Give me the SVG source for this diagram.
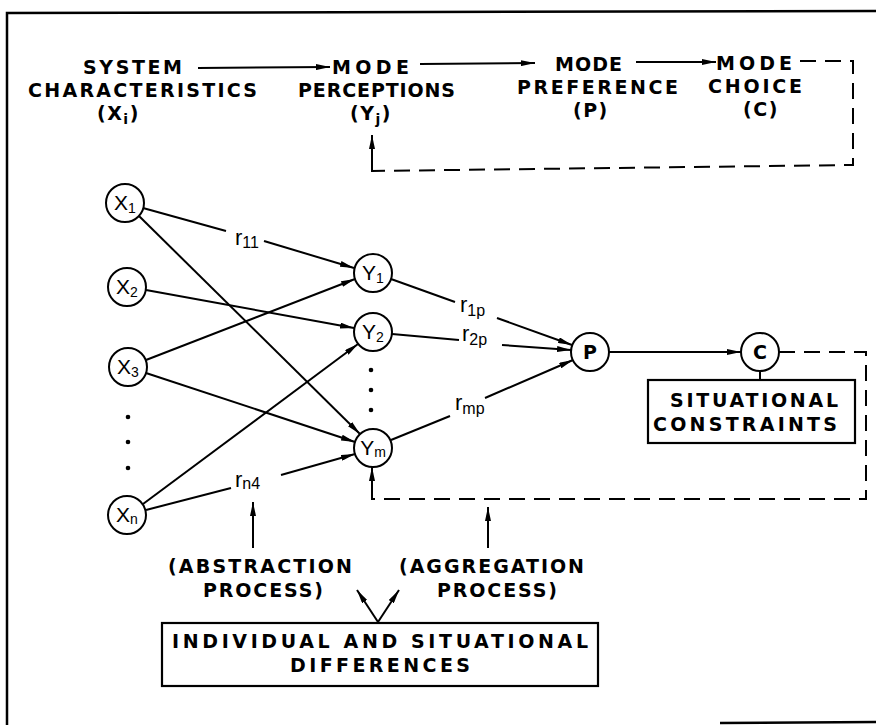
<svg xmlns="http://www.w3.org/2000/svg" width="876" height="725" viewBox="0 0 876 725">
  <defs>
    <marker id="ah" viewBox="0 0 14 6" refX="14" refY="3" markerWidth="14" markerHeight="6" markerUnits="userSpaceOnUse" orient="auto">
      <path d="M0,0 L14,3 L0,6 z" fill="#000"/>
    </marker>
    <style>
      .cap { font-family: "DejaVu Sans", "Liberation Sans", Arial, sans-serif; font-weight: bold; font-size: 19px; fill: #000; }
      .nl { font-family: "Liberation Sans", Arial, sans-serif; font-size: 21px; fill: #000; }
      .sub { font-size: 14px; }
      .rl { font-family: "Liberation Sans", Arial, sans-serif; font-size: 22px; fill: #000; }
      .rs { font-size: 16px; }
      .node circle { fill: #fff; stroke: #000; stroke-width: 2; }
      .dot { fill: #000; }
      .box { fill: #fff; stroke: #000; stroke-width: 2.2; }
      .ln { stroke: #000; stroke-width: 2; fill: none; }
      .arr { stroke: #000; stroke-width: 2; fill: none; marker-end: url(#ah); }
      .dash { stroke: #000; stroke-width: 2; fill: none; stroke-dasharray: 16 9; }
      .frame { stroke: #000; stroke-width: 2.5; fill: none; }
    </style>
  </defs>

  <!-- outer frame -->
  <g id="frame">
    <path class="frame" d="M876,11 L7,13 L7,725"/>
    <path class="frame" d="M720,723 L876,722"/>
  </g>

  <!-- header chain -->
  <g id="system-characteristics">
    <text class="cap" x="83" y="74" textLength="99" lengthAdjust="spacing">SYSTEM</text>
    <text class="cap" x="28" y="97" textLength="229" lengthAdjust="spacing">CHARACTERISTICS</text>
    <text class="cap" x="97" y="120" letter-spacing="1.5">(X<tspan class="sub" dy="4">i</tspan><tspan dy="-4">)</tspan></text>
  </g>
  <g id="mode-perceptions">
    <text class="cap" x="332" y="74" textLength="77" lengthAdjust="spacing">MODE</text>
    <text class="cap" x="298" y="97" textLength="157" lengthAdjust="spacing">PERCEPTIONS</text>
    <text class="cap" x="350" y="120" letter-spacing="1.5">(Y<tspan class="sub" dy="4">j</tspan><tspan dy="-4">)</tspan></text>
  </g>
  <g id="mode-preference">
    <text class="cap" x="555" y="71" textLength="67" lengthAdjust="spacing">MODE</text>
    <text class="cap" x="517" y="94" textLength="161" lengthAdjust="spacing">PREFERENCE</text>
    <text class="cap" x="573" y="117" letter-spacing="1.5">(P)</text>
  </g>
  <g id="mode-choice">
    <text class="cap" x="716" y="70" textLength="76" lengthAdjust="spacing">MODE</text>
    <text class="cap" x="708" y="93" textLength="94" lengthAdjust="spacing">CHOICE</text>
    <text class="cap" x="743" y="116" letter-spacing="1.5">(C)</text>
  </g>

  <!-- network nodes -->
  <g id="x1" class="node"><circle cx="125" cy="203" r="19"/><text class="nl" x="125" y="210" text-anchor="middle">X<tspan class="sub" dy="3">1</tspan></text></g>
  <g id="x2" class="node"><circle cx="127" cy="287" r="19"/><text class="nl" x="127" y="294" text-anchor="middle">X<tspan class="sub" dy="3">2</tspan></text></g>
  <g id="x3" class="node"><circle cx="128" cy="367" r="19"/><text class="nl" x="128" y="374" text-anchor="middle">X<tspan class="sub" dy="3">3</tspan></text></g>
  <g id="xn" class="node"><circle cx="127" cy="515" r="19"/><text class="nl" x="127" y="522" text-anchor="middle">X<tspan class="sub" dy="2">n</tspan></text></g>
  <g id="y1" class="node"><circle cx="373" cy="273" r="19"/><text class="nl" x="373" y="280" text-anchor="middle">Y<tspan class="sub" dy="3">1</tspan></text></g>
  <g id="y2" class="node"><circle cx="373" cy="332" r="19"/><text class="nl" x="373" y="339" text-anchor="middle">Y<tspan class="sub" dy="3">2</tspan></text></g>
  <g id="ym" class="node"><circle cx="373" cy="448" r="19"/><text class="nl" x="373" y="455" text-anchor="middle">Y<tspan class="sub" dy="2">m</tspan></text></g>
  <g id="p" class="node"><circle cx="590" cy="352" r="19"/><text class="cap" x="590" y="359" text-anchor="middle">P</text></g>
  <g id="c" class="node"><circle cx="760" cy="352" r="19"/><text class="cap" x="760" y="359" text-anchor="middle">C</text></g>

  <g id="situational-constraints">
    <rect class="box" x="648" y="380" width="207" height="63"/>
    <text class="cap" x="670" y="407" textLength="168" lengthAdjust="spacing">SITUATIONAL</text>
    <text class="cap" x="653" y="431" textLength="184" lengthAdjust="spacing">CONSTRAINTS</text>
  </g>

  <g id="differences">
    <rect class="box" x="162" y="623" width="436" height="63"/>
    <text class="cap" x="172" y="648" textLength="416" lengthAdjust="spacing">INDIVIDUAL AND SITUATIONAL</text>
    <text class="cap" x="290" y="672" textLength="180" lengthAdjust="spacing">DIFFERENCES</text>
  </g>

  <g id="abstraction-process">
    <text class="cap" x="168" y="573" textLength="184" lengthAdjust="spacing">(ABSTRACTION</text>
    <text class="cap" x="203" y="597" textLength="120" lengthAdjust="spacing">PROCESS)</text>
  </g>
  <g id="aggregation-process">
    <text class="cap" x="399" y="573" textLength="185" lengthAdjust="spacing">(AGGREGATION</text>
    <text class="cap" x="437" y="597" textLength="120" lengthAdjust="spacing">PROCESS)</text>
  </g>

  <!-- dots between nodes -->
  <g id="ellipses">
    <circle class="dot" cx="128" cy="417" r="2.3"/>
    <circle class="dot" cx="128" cy="442" r="2.3"/>
    <circle class="dot" cx="128" cy="468" r="2.3"/>
    <circle class="dot" cx="371" cy="370" r="2.3"/>
    <circle class="dot" cx="371" cy="390" r="2.3"/>
    <circle class="dot" cx="371" cy="410" r="2.3"/>
  </g>

  <!-- weight labels -->
  <g id="weights">
    <text class="rl" x="235" y="245">r<tspan class="rs" dy="3">11</tspan></text>
    <text class="rl" x="235" y="487">r<tspan class="rs" dy="2">n4</tspan></text>
    <text class="rl" x="460" y="312">r<tspan class="rs" dy="4">1p</tspan></text>
    <text class="rl" x="462" y="341">r<tspan class="rs" dy="4">2p</tspan></text>
    <text class="rl" x="455" y="410">r<tspan class="rs" dy="4">mp</tspan></text>
  </g>

  <!-- connectors -->
  <g id="connectors">
    <!-- header flow -->
    <line class="arr" x1="198" y1="68" x2="330" y2="67"/>
    <line class="arr" x1="420" y1="64" x2="535" y2="63"/>
    <line class="arr" x1="636" y1="62" x2="716" y2="62"/>
    <path class="dash" d="M800,61 L853,61 L853,165 L372,171"/>
    <line class="arr" x1="372" y1="172" x2="372" y2="135"/>

    <!-- X to Y -->
    <line class="ln" x1="143" y1="208" x2="226" y2="231"/>
    <line class="arr" x1="264" y1="241" x2="354" y2="268"/>
    <line class="arr" x1="139" y1="216" x2="360" y2="434"/>
    <line class="arr" x1="146" y1="290" x2="354" y2="328"/>
    <line class="arr" x1="146" y1="360" x2="355" y2="279"/>
    <line class="arr" x1="146" y1="373" x2="355" y2="442"/>
    <line class="arr" x1="143" y1="504" x2="358" y2="344"/>
    <line class="ln" x1="146" y1="510" x2="231" y2="488"/>
    <line class="arr" x1="281" y1="475" x2="355" y2="454"/>

    <!-- Y to P -->
    <line class="ln" x1="391" y1="279" x2="455" y2="302"/>
    <line class="arr" x1="497" y1="318" x2="572" y2="345"/>
    <line class="ln" x1="392" y1="334" x2="459" y2="340"/>
    <line class="arr" x1="502" y1="345" x2="571" y2="350"/>
    <line class="ln" x1="391" y1="440" x2="450" y2="416"/>
    <line class="arr" x1="485" y1="398" x2="573" y2="360"/>

    <!-- P to C, constraints, feedback -->
    <line class="arr" x1="609" y1="352" x2="741" y2="352"/>
    <line class="ln" x1="760" y1="371" x2="760" y2="380"/>
    <path class="dash" d="M779,352 L866,352 L866,499 L372,499"/>
    <line class="arr" x1="372" y1="500" x2="372" y2="467"/>

    <!-- process arrows -->
    <line class="arr" x1="253" y1="548" x2="253" y2="502"/>
    <line class="arr" x1="488" y1="548" x2="488" y2="507"/>
    <line class="arr" x1="378" y1="622" x2="357" y2="590"/>
    <line class="arr" x1="378" y1="622" x2="399" y2="590"/>
  </g>
</svg>
